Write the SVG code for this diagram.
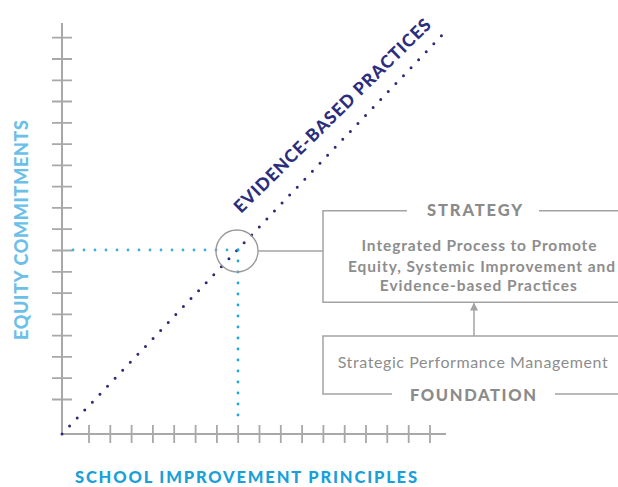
<svg xmlns="http://www.w3.org/2000/svg" width="618" height="487" viewBox="0 0 618 487">
  <style>
    .axis { stroke: #a8a8a8; stroke-width: 2; fill: none; }
    .tick { stroke: #a8a8a8; stroke-width: 1.8; fill: none; }
    .frame { stroke: #a3a3a3; stroke-width: 1.5; fill: none; }
    .dots-navy { stroke: #2b2a78; stroke-width: 3; stroke-linecap: round; stroke-dasharray: 0 11; fill: none; }
    .dots-blue { stroke: #3cb0dd; stroke-width: 2.8; stroke-linecap: round; stroke-dasharray: 0 11; fill: none; }
    .dots-cyan { stroke: #1ea6d6; stroke-width: 2.8; stroke-linecap: round; stroke-dasharray: 0 11; fill: none; }
    .head { font-family: Lato, "Open Sans", "Liberation Sans", sans-serif; font-weight: 900; }
    .gray-head { fill: #8b8b8b; font-size: 16.5px; }
    .body { font-family: Lato, "Open Sans", "Liberation Sans", sans-serif; fill: #8d8d8d; font-size: 15.5px; font-weight: bold; text-anchor: middle; }
    .body-reg { font-family: Lato, "Open Sans", "Liberation Sans", sans-serif; fill: #8d8d8d; font-size: 16px; }
  </style>
  <defs>
    <marker id="arrowhead" viewBox="0 0 8 8" refX="7" refY="4" markerWidth="8" markerHeight="8" markerUnits="userSpaceOnUse" orient="auto">
      <path d="M0,0 L8,4 L0,8 Z" fill="#a3a3a3"/>
    </marker>
  </defs>

  <!-- chart axes with tick marks -->
  <g id="axes">
    <path class="axis" d="M62,23 V434 H446"/>
    <path class="tick" d="M52,37.7H72 M52,59H72 M52,80.3H72 M52,101.5H72 M52,122.8H72 M52,144.1H72 M52,165.4H72 M52,186.7H72 M52,207.9H72 M52,229.2H72 M52,250.5H72 M52,271.8H72 M52,293.1H72 M52,314.3H72 M52,335.6H72 M52,356.9H72 M52,378.2H72 M52,399.5H72"/>
    <path class="tick" d="M89,425V443 M110.3,425V443 M131.6,425V443 M152.9,425V443 M174.2,425V443 M195.6,425V443 M216.9,425V443 M238.2,425V443 M259.5,425V443 M280.8,425V443 M302.1,425V443 M323.4,425V443 M344.7,425V443 M366,425V443 M387.3,425V443 M408.7,425V443 M430,425V443"/>
  </g>

  <!-- axis titles -->
  <g id="axis-labels">
    <text class="head" x="0" y="0" transform="translate(27.5,230) rotate(-90)" font-size="18" fill="#6cbfe8" text-anchor="middle" textLength="220" lengthAdjust="spacing">EQUITY COMMITMENTS</text>
    <text class="head" x="75" y="483" font-size="16.5" fill="#1a9fd8" textLength="342" lengthAdjust="spacing">SCHOOL IMPROVEMENT PRINCIPLES</text>
  </g>

  <!-- evidence-based practices trend -->
  <g id="evidence-line">
    <path class="dots-navy" d="M62,434 L446,31"/>
    <text class="head" x="0" y="0" transform="translate(241,214) rotate(-44.5)" font-size="17.5" fill="#2b2d7e" textLength="268" lengthAdjust="spacing">EVIDENCE-BASED PRACTICES</text>
  </g>

  <!-- guide lines to the focus point -->
  <g id="guides">
    <path class="dots-blue" d="M238,250 H72"/>
    <path class="dots-cyan" d="M238,250 V426"/>
  </g>

  <!-- focus point -->
  <g id="focus">
    <circle cx="237" cy="251" r="21" fill="none" stroke="#9a9a9a" stroke-width="1.4"/>
  </g>

  <!-- strategy box -->
  <g id="strategy">
    <path class="frame" d="M407,210.7 H323 V302.3 H618 M539,210.7 H618"/>
    <text class="head gray-head" x="427" y="215.5" textLength="95" lengthAdjust="spacing">STRATEGY</text>
    <text class="body" x="479" y="251" textLength="235" lengthAdjust="spacing">Integrated Process to Promote</text>
    <text class="body" x="481.5" y="272" textLength="267" lengthAdjust="spacing">Equity, Systemic Improvement and</text>
    <text class="body" x="478.3" y="291" textLength="197" lengthAdjust="spacing">Evidence-based Practices</text>
  </g>

  <!-- foundation box -->
  <g id="foundation">
    <path class="frame" d="M618,336 H323 V394 H392 M555,394 H618"/>
    <text class="body-reg" x="337.7" y="368.3" textLength="270" lengthAdjust="spacing">Strategic Performance Management</text>
    <text class="head gray-head" x="410" y="400.5" font-size="17" textLength="126" lengthAdjust="spacing">FOUNDATION</text>
  </g>

  <!-- connectors -->
  <g id="connectors">
    <path class="frame" d="M258,251 H323"/>
    <path class="frame" d="M474,336 V303.5" marker-end="url(#arrowhead)"/>
  </g>
</svg>
